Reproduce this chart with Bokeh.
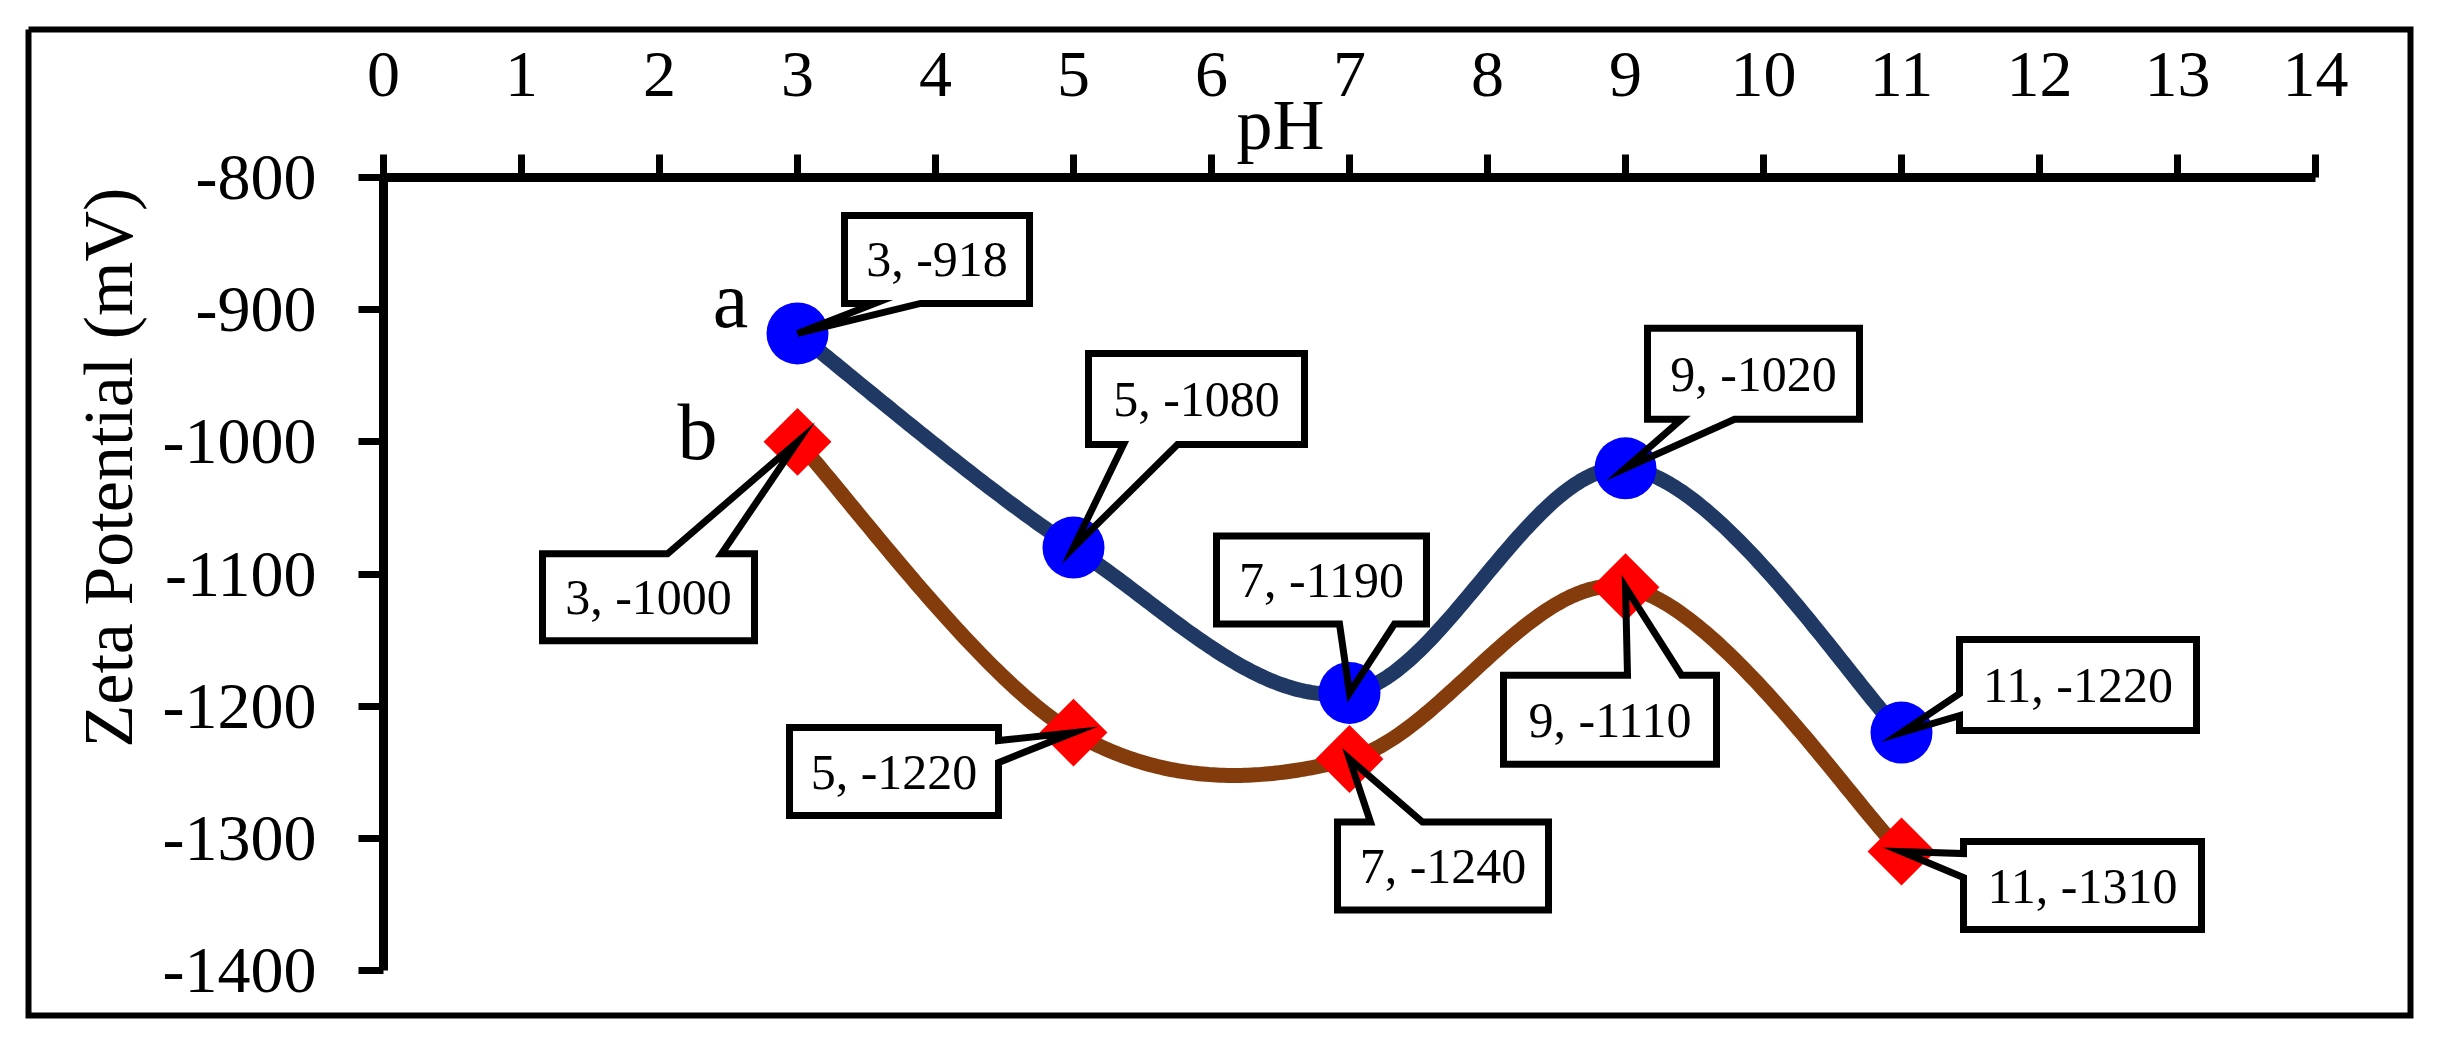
import numpy as np
from bokeh.plotting import figure
from bokeh.models import Range1d, FixedTicker
from bokeh.embed import file_html
from bokeh.resources import INLINE
from bokeh.core.properties import value

# ---------------- data ----------------
ph = [3, 5, 7, 9, 11]
zeta_a = [-918, -1080, -1190, -1020, -1220]
zeta_b = [-1000, -1220, -1240, -1110, -1310]
series_names = ["a", "b"]
x_ticks = list(range(0, 15))
y_ticks = [-1400, -1300, -1200, -1100, -1000, -900, -800]
x_title = "pH"
y_title = "Zeta Potential (mV)"

# ---------------- layout (canvas pixels) ----------------
W, H = 2443, 1048
XA, XB = 0, 14            # axis extent (data)
YA, YB = -1400, -800
PXA, PXB = 383, 2315      # pixel position of x = 0 and x = 14
PYB, PYA = 177, 970       # pixel position of y = -800 and y = -1400
SX = (PXB - PXA) / (XB - XA)
SY = (PYA - PYB) / (YB - YA)
FONT = "Liberation Serif"


def ref2data(X, Y):
    return XA + (X - PXA) / SX, YB - (Y - PYB) / SY


def shift(x, y, dx, dy):
    """data point shifted by screen pixels (dy positive = down)."""
    return x + dx / SX, y - dy / SY


def smooth(xs, ys, n=80):
    P = np.column_stack([xs, ys]).astype(float)
    out = []
    for i in range(len(P) - 1):
        p0 = P[i - 1] if i > 0 else P[i]
        p1, p2 = P[i], P[i + 1]
        p3 = P[i + 2] if i + 2 < len(P) else P[i + 1]
        c1 = p1 + (p2 - p0) / 6
        c2 = p2 - (p3 - p1) / 6
        t = np.linspace(0, 1, n)[:, None]
        seg = (1 - t) ** 3 * p1 + 3 * (1 - t) ** 2 * t * c1 + 3 * (1 - t) * t ** 2 * c2 + t ** 3 * p2
        out.append(seg if i == 0 else seg[1:])
    S = np.vstack(out)
    return S[:, 0], S[:, 1]


x0, _ = ref2data(0, 0)
x1, _ = ref2data(W, 0)
_, y1 = ref2data(0, 0)
_, y0 = ref2data(0, H)

p = figure(width=W, height=H, x_range=Range1d(x0, x1), y_range=Range1d(y0, y1),
           x_axis_location="above", toolbar_location=None, output_backend="svg",
           min_border=0)
p.title.visible = False
p.xgrid.visible = False
p.ygrid.visible = False
p.outline_line_color = None
p.background_fill_color = "white"
p.border_fill_color = "white"

for ax, ticks, tout, stand, bounds, loc in (
        (p.xaxis, x_ticks, 23, 59, (XA, XB), YB),
        (p.yaxis, y_ticks, 25, 42, (YA, YB), XA)):
    ax.ticker = FixedTicker(ticks=ticks)
    ax.major_label_overrides = {t: str(t) for t in ticks}
    ax.bounds = bounds
    ax.fixed_location = loc
    ax.major_label_text_font = FONT
    ax.major_label_text_font_size = "66px"
    ax.major_label_text_color = "black"
    ax.major_label_standoff = stand
    ax.axis_line_color = "black"
    ax.axis_line_width = 9
    ax.major_tick_line_color = "black"
    ax.major_tick_line_width = 7
    ax.major_tick_out = tout
    ax.major_tick_in = 0
    ax.minor_tick_line_color = None

# ---------------- outer frame ----------------
bl, bt = ref2data(28, 29)
br, bb = ref2data(2410, 1015)
p.line([bl, br, br, bl, bl], [bt, bt, bb, bb, bt], line_color="black", line_width=6,
       line_join="miter")

# ---------------- curves ----------------
line_colors = ["#1F3864", "#843C0C"]
for ys, col in ((zeta_a, line_colors[0]), (zeta_b, line_colors[1])):
    sx_, sy_ = smooth(ph, ys)
    p.line(sx_, sy_, line_color=col, line_width=15, line_cap="round", line_join="round")

# ---------------- callouts ----------------
# (left, top, right, bottom, side, base1, base2) in screen px relative to point
callouts_a = [
    (44, -121, 235, -27, "bottom", 77, 123),
    (12, -197, 234, -100, "bottom", 50, 104),
    (-136, -160, 80, -66, "bottom", -10, 45),
    (19, -143, 237, -46, "bottom", 56, 109),
    (55, -96, 298, 1, "left", -39, -17),
]
callouts_b = [
    (-258, 109, -40, 202, "top", -130, -76),
    (-287, -8, -72, 86, "right", 8, 30),
    (-15, 60, 202, 154, "top", 21, 73),
    (-125, 85, 94, 180, "top", 2, 56),
    (59, -13, 303, 81, "left", 2, 26),
]

poly_xs, poly_ys, txt_x, txt_y, txt = [], [], [], [], []
for ys, specs in ((zeta_a, callouts_a), (zeta_b, callouts_b)):
    for x, y, (L, T, R, B, side, b1, b2) in zip(ph, ys, specs):
        L, T, R, B = L + 3, T + 3, R - 3, B - 3
        if side == "bottom":
            pts = [(L, T), (R, T), (R, B), (b2, B), (0, 0), (b1, B), (L, B)]
        elif side == "top":
            pts = [(L, T), (b1, T), (0, 0), (b2, T), (R, T), (R, B), (L, B)]
        elif side == "left":
            pts = [(L, T), (R, T), (R, B), (L, B), (L, b2), (0, 0), (L, b1)]
        else:
            pts = [(L, T), (R, T), (R, b1), (0, 0), (R, b2), (R, B), (L, B)]
        dxy = [shift(x, y, dx, dy) for dx, dy in pts]
        poly_xs.append([d[0] for d in dxy])
        poly_ys.append([d[1] for d in dxy])
        tx, ty = shift(x, y, (L + R) / 2, (T + B) / 2)
        txt_x.append(tx)
        txt_y.append(ty)
        txt.append(f"{x}, {y}")

p.patches(poly_xs, poly_ys, fill_color="white", line_color=None)

# ---------------- markers ----------------
p.scatter(ph, zeta_a, marker="circle", size=62, fill_color="#0000FF", line_color=None)
p.scatter(ph, zeta_b, marker="square", size=48, angle=np.pi / 4, fill_color="#FF0000",
          line_color=None)

p.patches(poly_xs, poly_ys, fill_color=None, line_color="black", line_width=7,
          line_join="miter")
p.text(txt_x, txt_y, text=txt, text_font=value(FONT), text_font_size=value("50px"),
       text_align="center", text_baseline="middle", text_color="black")

# series letters
ax_, ay_ = shift(ph[0], zeta_a[0], -67, -33)
bx_, by_ = shift(ph[0], zeta_b[0], -100, -10)
p.text([ax_, bx_], [ay_, by_], text=series_names, text_font=value(FONT),
       text_font_size=value("80px"), text_align="center", text_baseline="alphabetic",
       text_color="black")

# ---------------- axis titles ----------------
lx, ly = ref2data(108, 467)
p.text([lx], [ly], text=[y_title], angle=np.pi / 2, text_align="center",
       text_baseline="alphabetic", text_font=value(FONT), text_font_size=value("70px"),
       text_color="black")
px_, py_ = ref2data(1236, 124)
p.text([px_], [py_], text=[x_title], text_align="left", text_baseline="alphabetic",
       text_font=value(FONT), text_font_size=value("72px"), text_color="black")

open("out.html", "w").write(file_html(p, INLINE))
